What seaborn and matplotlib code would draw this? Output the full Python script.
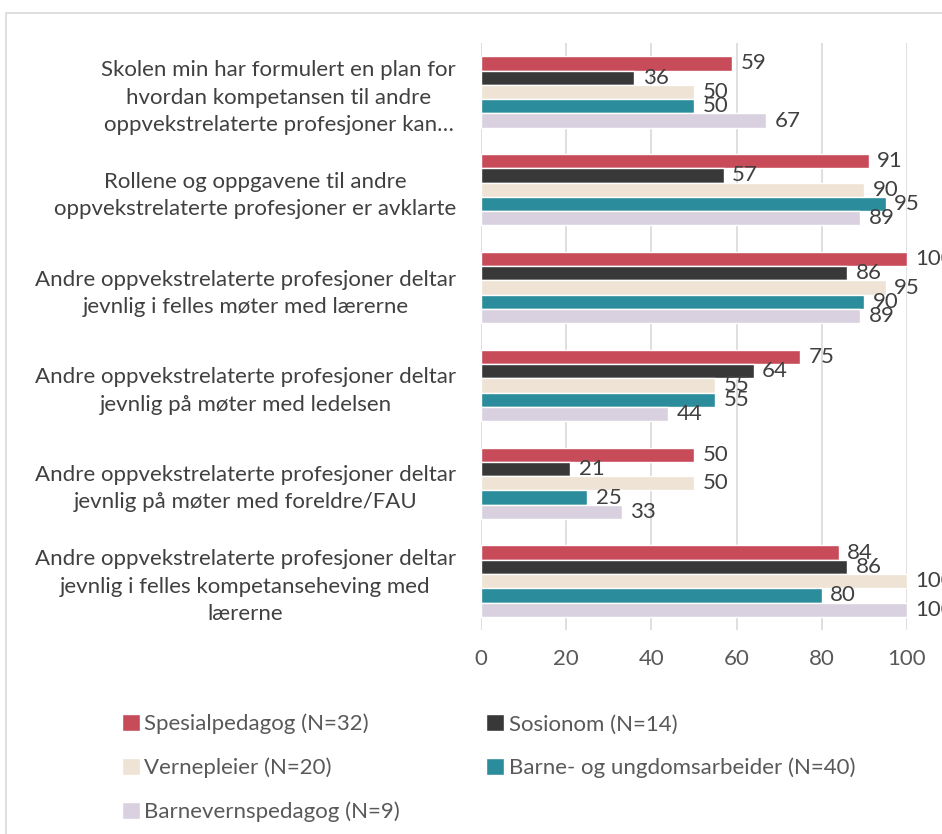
import pandas as pd
import matplotlib.pyplot as plt
import matplotlib.patches as mpatches
import seaborn as sns

# --- Data ---
statements = [
    "Skolen min har formulert en plan for\nhvordan kompetansen til andre\noppvekstrelaterte profesjoner kan…",
    "Rollene og oppgavene til andre\noppvekstrelaterte profesjoner er avklarte",
    "Andre oppvekstrelaterte profesjoner deltar\njevnlig i felles møter med lærerne",
    "Andre oppvekstrelaterte profesjoner deltar\njevnlig på møter med ledelsen",
    "Andre oppvekstrelaterte profesjoner deltar\njevnlig på møter med foreldre/FAU",
    "Andre oppvekstrelaterte profesjoner deltar\njevnlig i felles kompetanseheving med\nlærerne",
]
groups = [
    "Spesialpedagog (N=32)",
    "Sosionom (N=14)",
    "Vernepleier (N=20)",
    "Barne- og ungdomsarbeider (N=40)",
    "Barnevernspedagog (N=9)",
]
spesialpedagog = [59, 91, 100, 75, 50, 84]
sosionom = [36, 57, 86, 64, 21, 86]
vernepleier = [50, 90, 95, 55, 50, 100]
barne_ungdom = [50, 95, 90, 55, 25, 80]
barnevern = [67, 89, 89, 44, 33, 100]
colors = ["#C84B5A", "#383838", "#EEE3D4", "#2B8C9C", "#D9D1E0"]

series = [spesialpedagog, sosionom, vernepleier, barne_ungdom, barnevern]
rows = []
for g, vals in zip(groups, series):
    for s, v in zip(statements, vals):
        rows.append({"statement": s, "group": g, "value": v})
df = pd.DataFrame(rows)

# --- Plot ---
sns.set_style("white")
plt.rcParams["font.family"] = ["Lato", "DejaVu Sans"]
text_col = "#404040"
fs = 16

fig = plt.figure(figsize=(9.42, 8.34), dpi=100)
ax = fig.add_axes([0.5106, 0.2446, 0.4522, 0.7038])

sns.barplot(
    data=df, y="statement", x="value", hue="group",
    order=statements, hue_order=groups, palette=colors,
    orient="h", width=0.73, saturation=1, ax=ax, legend=True,
)

for cont in ax.containers:
    ax.bar_label(cont, fmt="%d", padding=6, fontsize=fs, color=text_col)

ax.set_xlim(0, 100)
ax.set_xticks(range(0, 101, 20))
ax.set_xlabel("")
ax.set_ylabel("")
ax.grid(axis="x", color="#D9D9D9", linewidth=1.2)
ax.set_axisbelow(True)
sns.despine(ax=ax, left=True, bottom=True)
ax.tick_params(axis="x", labelsize=fs, colors="#595959", length=0, pad=14)
ax.tick_params(axis="y", labelsize=fs, colors=text_col, length=0, pad=18)
for lbl in ax.get_yticklabels():
    lbl.set_multialignment("center")
    lbl.set_linespacing(1.45)

# legend filled row by row like the original (matplotlib fills columns first)
handles, labels = ax.get_legend_handles_labels()
ax.get_legend().remove()
order = [0, 2, 4, 1, 3]
fig.legend(
    [handles[i] for i in order], [labels[i] for i in order],
    loc="upper left", bbox_to_anchor=(0.108, 0.168),
    ncol=2, frameon=False, fontsize=fs, labelcolor="#595959",
    handlelength=0.8, handleheight=0.8, handletextpad=0.2,
    columnspacing=3.9, labelspacing=1.05,
)

# outer chart border
fig.patches.append(mpatches.Rectangle(
    (6 / 942, -0.01), 1.0, 1 - 13 / 834 + 0.01, transform=fig.transFigure,
    fill=False, edgecolor="#D9D9D9", linewidth=1.2))

fig.savefig("out.png", dpi=100)
